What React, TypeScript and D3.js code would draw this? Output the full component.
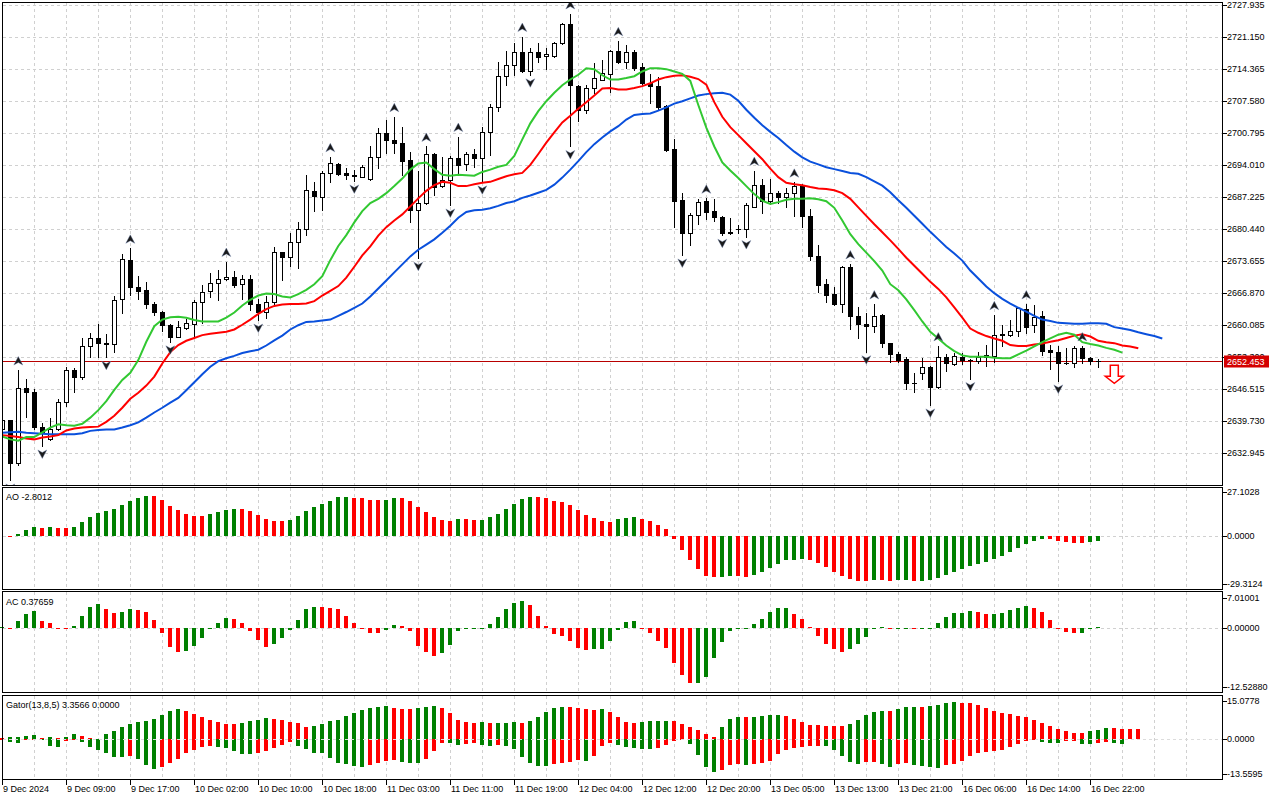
import React from "react";
import * as d3 from "d3";

// ---------- DATA (XAUUSD H1, 9 Dec 2024 - 16 Dec 2024) ----------
const opens = [2638.2,2639.9,2630.8,2646.7,2645.9,2638.6,2635.9,2638.2,2643.8,2650.6,
2649.2,2655.6,2657.3,2656.4,2656.1,2665.6,2673.9,2668.3,2667.6,2664.6,
2662.8,2660.2,2657.7,2659.6,2660.3,2665.0,2667.4,2669.0,2669.8,2670.3,
2668.8,2670.0,2664.6,2663.0,2665.0,2675.6,2674.5,2677.8,2680.4,2688.6,
2687.2,2692.3,2694.3,2692.3,2692.0,2691.6,2691.0,2695.7,2700.9,2699.4,
2698.7,2695.1,2684.5,2686.0,2696.4,2689.6,2690.9,2695.5,2694.3,2696.4,
2695.5,2701.0,2706.3,2713.0,2715.3,2718.0,2713.9,2718.0,2717.2,2717.2,
2719.9,2724.0,2710.8,2705.7,2710.3,2712.2,2713.4,2718.3,2716.0,2718.0,
2714.8,2711.5,2710.8,2706.6,2697.4,2686.7,2679.7,2683.5,2686.5,2684.3,
2683.0,2679.8,2680.4,2680.4,2685.2,2689.8,2686.5,2688.1,2687.2,2688.2,
2689.8,2683.3,2674.8,2668.8,2666.7,2664.7,2672.5,2662.1,2660.4,2659.9,
2662.3,2656.3,2654.1,2652.9,2647.9,2649.9,2651.3,2647.1,2653.3,2651.9,
2653.3,2652.7,2652.6,2653.4,2653.6,2658.2,2658.0,2658.9,2663.5,2660.2,
2662.1,2654.9,2654.5,2652.0,2652.0,2655.2,2653.1,2652.6];
const highs = [2640.4,2640.0,2650.6,2648.7,2646.5,2639.3,2640.4,2644.5,2651.3,2651.0,
2657.3,2658.4,2660.4,2658.2,2666.2,2675.1,2676.4,2670.5,2669.3,2665.1,
2663.2,2660.3,2660.9,2661.4,2665.5,2668.6,2671.2,2671.8,2673.6,2671.5,
2670.8,2670.8,2665.6,2666.3,2676.6,2675.7,2679.6,2681.9,2692.0,2690.5,
2692.7,2695.8,2694.4,2693.4,2693.0,2694.1,2698.0,2701.9,2703.6,2704.3,
2702.2,2696.9,2692.7,2698.0,2696.6,2695.8,2696.0,2700.1,2696.9,2697.4,
2702.1,2707.0,2716.0,2718.3,2720.0,2721.3,2718.8,2720.0,2718.8,2720.2,
2724.1,2726.1,2711.0,2711.0,2715.8,2716.3,2718.5,2720.4,2719.5,2718.5,
2715.6,2713.4,2712.7,2706.8,2699.5,2688.2,2684.0,2686.8,2687.0,2686.8,
2683.3,2682.8,2681.4,2686.0,2692.9,2691.0,2691.0,2688.6,2689.3,2690.4,
2690.0,2684.7,2677.1,2670.0,2668.3,2672.7,2673.1,2664.0,2662.6,2664.6,
2662.4,2656.4,2654.5,2653.4,2649.9,2653.1,2651.5,2655.7,2654.1,2654.3,
2654.3,2652.9,2654.5,2655.9,2662.3,2660.2,2661.2,2664.0,2664.6,2664.4,
2663.2,2655.9,2655.6,2655.2,2655.6,2655.7,2653.4,2652.9];
const lows = [2637.9,2627.3,2630.5,2640.7,2638.2,2634.5,2635.8,2637.9,2643.0,2646.0,
2648.8,2653.3,2653.3,2653.3,2654.5,2662.6,2666.5,2665.6,2663.7,2662.3,
2658.9,2656.6,2657.5,2659.4,2657.7,2660.5,2666.0,2665.5,2669.7,2668.1,
2665.6,2663.3,2661.2,2661.6,2664.4,2669.7,2672.7,2672.2,2679.2,2684.4,
2684.5,2690.5,2692.0,2691.0,2690.7,2691.5,2690.9,2693.4,2696.6,2696.6,
2692.0,2681.9,2674.3,2685.8,2687.7,2689.5,2685.6,2692.3,2693.0,2693.7,
2690.5,2696.2,2705.6,2711.0,2713.2,2713.7,2713.2,2716.0,2714.4,2717.0,
2719.7,2698.0,2703.5,2705.0,2709.4,2712.1,2709.6,2715.6,2714.6,2714.2,
2711.0,2707.2,2705.7,2697.1,2680.9,2675.0,2677.1,2681.6,2682.6,2682.3,
2679.2,2679.5,2679.6,2678.9,2685.1,2684.0,2685.8,2686.0,2685.1,2683.3,
2680.9,2673.9,2667.2,2665.1,2664.4,2662.8,2659.4,2657.3,2654.5,2658.7,
2655.4,2652.2,2652.4,2646.5,2646.0,2648.6,2643.2,2646.7,2650.3,2651.7,
2651.9,2648.8,2652.0,2651.5,2652.4,2655.6,2657.8,2657.8,2658.4,2658.7,
2653.8,2650.8,2648.3,2651.9,2651.2,2652.0,2651.9,2651.3];
const closes = [2639.9,2630.8,2646.7,2646.0,2638.6,2637.2,2638.2,2643.8,2650.6,2649.2,
2655.6,2657.3,2656.3,2656.1,2665.5,2674.1,2668.3,2667.4,2664.5,2663.0,
2660.2,2657.7,2659.8,2660.5,2665.0,2667.2,2669.0,2669.8,2670.3,2668.6,
2670.0,2664.5,2663.0,2665.0,2675.6,2674.5,2677.7,2680.4,2688.8,2687.4,
2692.3,2694.4,2692.2,2692.0,2691.7,2693.6,2695.7,2700.9,2699.4,2698.8,
2695.0,2684.5,2686.0,2696.4,2689.5,2690.9,2695.5,2694.1,2696.4,2695.5,
2701.0,2706.3,2713.0,2715.3,2718.0,2714.1,2718.0,2717.0,2717.6,2719.9,
2724.0,2711.0,2705.7,2710.3,2712.5,2713.5,2718.3,2716.0,2718.0,2714.6,
2711.5,2710.8,2706.4,2697.3,2686.5,2679.7,2683.5,2686.3,2684.2,2683.0,
2679.6,2679.6,2680.4,2685.5,2689.8,2686.5,2688.1,2687.2,2688.2,2689.6,
2683.3,2674.8,2668.6,2666.5,2664.6,2672.5,2662.1,2660.4,2659.9,2662.1,
2656.3,2654.1,2652.7,2647.8,2647.9,2651.3,2647.1,2653.3,2652.0,2653.6,
2652.7,2652.7,2653.3,2653.8,2658.0,2658.0,2658.9,2663.7,2659.8,2661.9,
2654.7,2654.4,2652.0,2652.0,2655.2,2653.1,2652.6,2652.453];

// Alligator lines, one value per bar slot (already shifted forward 8 / 5 / 3 bars)
const jaw = [2637.3,2637.4,2637.5,2637.3,2637.2,2637.1,2637.0,2637.0,2637.0,2637.0,
2637.2,2637.7,2637.9,2638.0,2638.0,2638.4,2638.9,2639.5,2640.5,2641.6,
2642.6,2643.7,2644.7,2646.3,2648.0,2649.7,2651.3,2652.5,2653.1,2653.6,
2654.2,2654.6,2654.9,2655.8,2656.9,2657.9,2659.2,2660.1,2660.8,2660.9,
2661.1,2661.3,2662.1,2662.9,2663.8,2664.7,2666.2,2667.9,2669.6,2671.3,
2673.0,2674.7,2676.1,2677.2,2678.3,2679.7,2681.2,2682.9,2684.1,2684.5,
2684.6,2684.9,2685.4,2686.0,2686.4,2687.1,2687.6,2688.2,2688.8,2689.9,
2691.4,2693.1,2694.9,2696.8,2698.5,2699.9,2701.2,2702.3,2703.7,2704.7,
2704.9,2705.0,2705.6,2706.3,2707.1,2707.6,2708.2,2708.8,2709.1,2709.3,
2709.4,2709.0,2707.7,2705.8,2704.1,2702.5,2701.1,2699.8,2698.3,2696.9,
2695.7,2694.8,2694.2,2693.6,2693.2,2692.8,2692.4,2692.2,2691.5,2690.6,
2689.7,2688.3,2686.6,2685.0,2683.3,2681.6,2679.9,2678.3,2676.7,2675.3,
2673.8,2671.7,2670.0,2668.3,2666.9,2665.7,2664.7,2663.8,2663.0,2662.1,
2661.3,2661.0,2660.6,2660.5,2660.4,2660.4,2660.5,2660.5,2660.4,2659.7,
2659.4,2659.1,2658.6,2658.2,2657.8,2657.3];
const teeth = [2636.8,2636.6,2636.4,2636.1,2635.9,2636.3,2636.5,2636.8,2637.8,2638.2,
2638.4,2638.5,2638.6,2639.6,2640.9,2642.6,2644.5,2645.8,2647.3,2649.2,
2652.0,2654.4,2655.9,2656.8,2657.4,2658.0,2658.3,2658.5,2658.7,2659.2,
2660.2,2661.3,2662.5,2663.5,2664.2,2664.5,2664.6,2664.6,2664.7,2665.2,
2666.4,2667.4,2668.4,2670.2,2672.5,2674.9,2676.8,2679.1,2680.9,2682.3,
2683.6,2685.3,2687.0,2688.6,2689.8,2690.5,2690.3,2689.6,2689.6,2690.0,
2690.3,2690.5,2691.1,2691.7,2692.1,2692.4,2694.1,2696.4,2698.8,2701.0,
2703.1,2704.5,2706.0,2707.4,2708.8,2710.3,2710.4,2710.1,2710.1,2710.4,
2710.8,2711.4,2712.2,2712.7,2713.0,2713.1,2712.8,2712.3,2711.1,2707.4,
2704.3,2702.1,2700.4,2698.7,2697.0,2695.3,2693.3,2691.5,2690.3,2690.0,
2689.8,2689.4,2689.1,2689.0,2688.7,2688.1,2686.9,2685.1,2683.3,2681.5,
2679.8,2678.1,2676.3,2674.4,2672.7,2671.0,2669.3,2667.8,2666.0,2663.9,
2661.7,2659.4,2658.5,2657.8,2657.3,2656.8,2655.9,2655.7,2655.7,2656.0,
2656.2,2656.6,2656.9,2657.4,2657.9,2658.2,2657.7,2656.8,2656.5,2656.3,
2655.8,2655.6,2655.2];
const lips = [2636.5,2635.9,2635.6,2636.4,2636.4,2637.4,2638.4,2639.1,2638.9,2638.8,
2639.2,2640.5,2642.1,2644.0,2646.4,2648.5,2650.0,2652.7,2656.6,2659.9,
2661.3,2661.8,2661.9,2661.7,2661.2,2660.9,2660.9,2660.9,2661.7,2662.8,
2664.3,2665.5,2666.4,2666.8,2666.7,2666.2,2666.0,2666.7,2667.6,2668.8,
2670.5,2673.9,2676.9,2679.2,2681.9,2684.3,2686.0,2686.9,2688.1,2689.6,
2691.2,2693.1,2694.4,2694.6,2693.2,2692.0,2691.8,2692.0,2691.9,2691.8,
2692.6,2693.1,2693.7,2694.1,2696.0,2699.5,2702.9,2705.5,2707.6,2709.4,
2711.0,2712.2,2713.2,2714.6,2714.4,2713.1,2712.2,2712.2,2712.5,2712.9,
2713.9,2714.6,2714.6,2714.4,2713.9,2713.4,2711.9,2706.8,2702.0,2698.0,
2694.6,2692.9,2691.3,2689.6,2687.9,2686.5,2685.8,2686.2,2686.7,2686.9,
2686.9,2687.0,2686.8,2686.4,2685.0,2682.3,2679.4,2677.3,2675.5,2673.7,
2671.7,2668.8,2667.5,2665.6,2663.3,2660.9,2658.7,2657.3,2655.8,2654.6,
2653.7,2653.4,2653.4,2653.4,2653.2,2653.1,2653.1,2653.9,2654.7,2655.6,
2656.5,2657.3,2658.1,2658.5,2658.1,2656.5,2656.1,2655.8,2655.3,2654.9,
2654.3];

const fractalUp = [2, 16, 28, 41, 49, 53, 57, 65, 71, 77, 88, 94, 99, 106, 109, 117, 124, 128, 135];
const fractalDown = [1, 5, 13, 21, 32, 44, 52, 56, 60, 66, 71, 85, 90, 93, 108, 116, 121, 132];
const sellSignalBar = 139;
const sellSignalPrice = 2651.6;
const bidPrice = 2652.453;

// Awesome Oscillator (bar 0 has no value)
const ao = [null,-0.5,1.2,3.7,5.6,5.0,5.6,5.0,4.9,5.6,
8.7,11.8,14.3,15.5,16.7,19.2,21.7,23.6,24.8,24.7,
22.3,18.6,16.1,13.6,12.4,12.3,13.6,14.9,16.1,16.7,
16.6,15.5,13.0,10.5,9.3,9.2,9.9,12.4,15.5,18.0,
19.9,21.7,24.2,24.3,23.6,23.5,22.3,22.1,22.3,23.6,
23.5,21.7,18.0,14.9,11.8,9.9,9.3,10.5,10.4,9.9,
10.0,11.8,13.6,16.7,19.9,23.0,24.2,24.1,23.6,21.7,
21.1,19.2,16.1,13.0,11.2,9.3,8.7,10.5,11.2,11.8,
10.5,9.3,6.8,4.3,-1.8,-8.3,-14.6,-20.2,-24.3,-24.9,
-24.8,-24.3,-24.4,-24.9,-23.7,-21.8,-19.4,-17.0,-14.6,-14.5,
-14.0,-14.6,-16.4,-18.8,-21.8,-24.3,-26.1,-27.3,-27.4,-26.7,
-26.8,-27.3,-26.7,-26.6,-27.3,-27.2,-26.7,-25.5,-23.7,-21.8,
-20.0,-18.2,-17.0,-15.8,-14.0,-12.1,-9.7,-7.3,-4.9,-3.0,
-1.8,-1.9,-3.0,-3.6,-4.2,-4.3,-3.6,-2.8012];
// Accelerator Oscillator
const ac = [0.2,0.1,1.7,3.3,4.0,1.7,1.2,0.1,-0.1,0.5,
2.8,4.9,5.6,4.4,3.5,3.7,4.4,4.2,3.7,1.9,
-1.1,-3.9,-5.0,-4.9,-3.7,-2.0,-0.1,1.2,2.4,2.1,
1.2,-0.5,-2.4,-3.9,-3.3,-2.0,-0.3,1.9,4.4,4.9,
4.8,4.7,4.4,2.8,1.2,-0.1,-0.9,-1.0,-0.3,0.8,
0.5,-0.6,-3.7,-5.0,-5.8,-5.2,-3.5,-0.5,0.05,0.1,
0.15,1.0,2.6,4.4,5.8,6.3,5.3,2.8,0.5,-1.3,
-1.6,-2.6,-4.1,-4.7,-4.5,-4.4,-2.8,-0.3,1.5,1.6,
-0.05,-1.1,-2.8,-4.1,-7.3,-10.0,-11.7,-11.6,-10.3,-6.4,
-3.0,-0.5,0.05,0.1,1.0,2.1,3.7,4.7,4.75,3.3,
2.1,0.3,-1.6,-3.3,-4.5,-5.0,-4.3,-3.3,-1.8,0.15,
0.2,-0.2,0.0,0.15,-0.2,0.0,0.1,1.2,2.6,3.5,
3.55,4.0,3.7,3.3,3.35,3.5,4.2,4.7,5.1,4.7,
3.7,1.9,-0.1,-0.7,-1.1,-0.9,0.0,0.37659];
// Gator oscillator: upper |jaw-teeth| and lower -|teeth-lips|
const gatorUp = [0.4,0.7,0.8,1.2,1.6,0.3,0.7,0.3,0.8,2.0,
1.2,0.3,0.1,2.0,3.1,4.7,5.9,6.7,7.1,7.9,
9.4,11.0,11.8,11.0,9.8,8.7,7.5,6.7,5.9,5.8,
6.3,7.1,7.5,8.3,7.9,7.5,6.7,6.3,4.7,5.1,
5.9,7.1,7.5,9.0,10.2,11.4,12.2,12.6,13.0,12.2,
11.8,11.7,12.2,12.6,13.0,12.2,10.2,7.5,6.7,6.3,
6.7,6.3,6.35,6.4,6.7,6.3,7.1,8.7,10.6,12.2,
12.6,12.5,12.4,11.7,11.6,11.7,10.6,8.7,6.7,6.3,
6.7,7.1,7.15,7.2,7.0,5.9,4.7,3.5,2.0,0.8,
4.7,7.9,8.7,8.6,8.7,9.1,9.4,9.5,9.1,7.9,
6.7,5.5,5.4,5.1,5.05,5.0,5.9,7.5,9.4,10.6,
11.0,10.9,11.8,12.6,12.65,12.6,13.0,13.4,14.2,14.6,
14.2,14.1,13.4,12.2,11.0,10.2,9.8,9.1,8.7,7.5,
6.3,5.1,3.9,3.1,2.4,2.3,3.0,3.3566,4.3,4.2,
3.9,3.85,3.8];
const gatorDown = [-0.4,-1.0,-1.4,-0.5,-0.2,-0.3,-2.6,-3.0,-0.9,-0.5,
-1.0,-3.0,-4.2,-5.3,-6.9,-7.0,-6.8,-7.7,-10.0,-11.6,
-10.8,-9.2,-7.7,-5.3,-4.2,-3.0,-2.9,-3.0,-3.4,-4.6,
-5.7,-5.8,-5.3,-4.6,-3.4,-2.2,-1.0,-2.6,-3.8,-5.3,
-5.4,-7.3,-9.2,-9.6,-10.4,-10.8,-10.0,-9.2,-8.5,-8.4,
-8.9,-9.2,-9.3,-7.7,-4.6,-1.4,-1.5,-2.5,-2.1,-1.7,
-2.5,-2.9,-2.5,-2.55,-3.8,-6.9,-9.2,-10.4,-10.5,-9.6,
-9.5,-8.9,-8.1,-8.5,-6.5,-2.9,-1.4,-2.2,-3.0,-3.4,
-3.8,-3.85,-3.4,-2.2,-0.7,-0.3,-1.8,-6.1,-10.8,-12.8,
-12.0,-10.0,-9.9,-10.05,-9.6,-9.2,-8.5,-5.7,-4.2,-3.4,
-3.0,-2.6,-2.55,-2.6,-4.2,-6.5,-8.9,-9.6,-8.85,-8.8,
-9.6,-10.8,-9.6,-9.2,-10.0,-10.4,-10.8,-11.2,-10.0,-9.6,
-8.5,-6.5,-5.3,-4.9,-4.6,-4.2,-3.0,-1.8,-0.65,-0.3,
-1.0,-1.4,-1.45,-0.65,-0.6,-1.8,-1.85,-1.4,-1.35,-1.45,
-1.8];

const priceTicks = [2727.935,2721.150,2714.365,2707.580,2700.795,2694.010,2687.225,2680.440,2673.655,2666.870,2660.085,2653.300,2646.515,2639.730,2632.945];
const aoTicks = [27.1028, 0, -29.3124];
const aoTickLabels = ["27.1028", "0.0000", "-29.3124"];
const acTicks = [7.01001, 0, -12.5288];
const acTickLabels = ["7.01001", "0.00000", "-12.52880"];
const gatorTicks = [15.0778, 0, -13.5595];
const gatorTickLabels = ["15.0778", "0.0000", "-13.5595"];
const timeLabels = ["9 Dec 2024","9 Dec 09:00","9 Dec 17:00","10 Dec 02:00","10 Dec 10:00","10 Dec 18:00","11 Dec 03:00","11 Dec 11:00","11 Dec 19:00","12 Dec 04:00","12 Dec 12:00","12 Dec 20:00","13 Dec 05:00","13 Dec 13:00","13 Dec 21:00","16 Dec 06:00","16 Dec 14:00","16 Dec 22:00"];
const barsPerLabel = 8;
const barsPerGrid = 4;

// ---------- LAYOUT / STYLE ----------
const W = 1280, H = 800;
const L = 2.5, R = 1222.5;
const MAIN = { top: 2.5, bottom: 485.5 };
const AOP = { top: 487.5, bottom: 589.5 };
const ACP = { top: 591.5, bottom: 692.5 };
const GP = { top: 695.5, bottom: 779.5 };
const GREEN = "#008000", RED = "#ff0000";
const FONT = "'Liberation Sans', Arial, sans-serif";
const GRID = "#d0d0d0";

const x = d3.scaleLinear().domain([0, 1]).range([2.3, 10.3]);
const yP = d3.scaleLinear().domain([2632.945, 2727.935]).range([453.3, 5.3]);
const yAO = d3.scaleLinear().domain([-29.3124, 0, 27.1028]).range([584.3, 536, 492.3]);
const yAC = d3.scaleLinear().domain([-12.5288, 0, 7.01001]).range([687.3, 628.3, 597.7]);
const yG = d3.scaleLinear().domain([-13.5595, 0, 15.0778]).range([773.7, 739, 700.7]);

const px = (k: number) => Math.floor(x(k)) + 0.5;

function colorOf(vals: (number | null)[], i: number, first: string, useAbs = false) {
  const prev = i > 0 ? vals[i - 1] : null;
  const cur = vals[i] as number;
  if (prev == null) return first;
  const a = useAbs ? Math.abs(cur) : cur;
  const b = useAbs ? Math.abs(prev) : prev;
  return a > b ? GREEN : RED;
}

function Histogram({ vals, y, first, useAbs = false }: any) {
  const zero = y(0);
  return (
    <g shapeRendering="crispEdges">
      {vals.map((v: number | null, i: number) => {
        if (v == null) return null;
        const yy = y(v);
        const top = Math.min(yy, zero);
        const h = Math.max(1, Math.abs(yy - zero));
        return <rect key={i} x={Math.round(x(i)) - 2} y={top} width={4} height={h} fill={colorOf(vals, i, first, useAbs)} />;
      })}
    </g>
  );
}

function VGrid({ top, bottom }: any) {
  const lines = [];
  for (let k = barsPerGrid; x(k) < R - 8; k += barsPerGrid) lines.push(k);
  return (
    <g>
      {lines.map((k) => (
        <line key={k} x1={px(k)} x2={px(k)} y1={top} y2={bottom} stroke={GRID} strokeDasharray="3,3" shapeRendering="crispEdges" />
      ))}
    </g>
  );
}

function AxisLabels({ ticks, labels, y }: any) {
  return (
    <g fontFamily={FONT} fontSize={9} fill="#000">
      {ticks.map((t: number, i: number) => (
        <g key={i}>
          <line x1={R} x2={R + 4} y1={Math.round(y(t)) + 0.5} y2={Math.round(y(t)) + 0.5} stroke="#000" shapeRendering="crispEdges" />
          <text x={1227} y={y(t)} dominantBaseline="central">{labels[i]}</text>
        </g>
      ))}
    </g>
  );
}

function upFractal(cx: number, cy: number) {
  return `M${cx},${cy - 4.5}L${cx + 4.5},${cy + 4}L${cx},${cy + 1.5}L${cx - 4.5},${cy + 4}Z`;
}
function downFractal(cx: number, cy: number) {
  return `M${cx},${cy + 4.5}L${cx + 4.5},${cy - 4}L${cx},${cy - 1.5}L${cx - 4.5},${cy - 4}Z`;
}

export default function App() {
  const line = (arr: number[]) =>
    d3.line<number>().x((_, i) => x(i)).y((d) => yP(d))(arr) as string;

  const bidY = Math.round(yP(bidPrice)) + 0.5;
  const sx = x(sellSignalBar);
  const sy = yP(sellSignalPrice);
  const arrowPath = `M${sx - 4},${sy}L${sx + 4},${sy}L${sx + 4},${sy + 11}L${sx + 9},${sy + 11}L${sx},${sy + 18}L${sx - 9},${sy + 11}L${sx - 4},${sy + 11}Z`;

  return (
    <div style={{ position: "fixed", left: 0, top: 0, width: W, height: H, background: "#fff" }}>
      <svg width={W} height={H} style={{ display: "block" }}>
        <defs>
          <clipPath id="mainClip"><rect x={L} y={MAIN.top} width={R - L} height={MAIN.bottom - MAIN.top} /></clipPath>
        </defs>
        <rect x={0} y={0} width={W} height={H} fill="#fff" />

        {/* ---------- MAIN PANEL ---------- */}
        <VGrid top={MAIN.top} bottom={MAIN.bottom} />
        {priceTicks.map((t, i) => (
          <line key={i} x1={L} x2={R} y1={Math.round(yP(t)) + 0.5} y2={Math.round(yP(t)) + 0.5} stroke={GRID} strokeDasharray="3,3" shapeRendering="crispEdges" />
        ))}
        <g clipPath="url(#mainClip)">
          <line x1={L} x2={R} y1={bidY} y2={bidY} stroke="#b80000" strokeWidth={1} shapeRendering="crispEdges" />
          {/* candles */}
          <g shapeRendering="crispEdges">
            {opens.map((o, k) => {
              const c = closes[k];
              const cx = px(k);
              const yH = Math.round(yP(highs[k]));
              const yL = Math.round(yP(lows[k]));
              const yT = Math.round(yP(Math.max(o, c)));
              const yB = Math.round(yP(Math.min(o, c)));
              const bull = c >= o;
              return (
                <g key={k}>
                  <line x1={cx} x2={cx} y1={yH} y2={yL + 1} stroke="#000" />
                  {yB - yT < 1 ? (
                    <line x1={cx - 2.5} x2={cx + 2.5} y1={yT + 0.5} y2={yT + 0.5} stroke="#000" />
                  ) : bull ? (
                    <rect x={cx - 2} y={yT + 0.5} width={4} height={yB - yT} fill="#fff" stroke="#000" />
                  ) : (
                    <rect x={cx - 2.5} y={yT} width={5} height={yB - yT + 1} fill="#000" />
                  )}
                </g>
              );
            })}
          </g>
          {/* alligator */}
          <path d={line(jaw)} fill="none" stroke="#0a50dc" strokeWidth={2} />
          <path d={line(teeth)} fill="none" stroke="#ff0000" strokeWidth={2} />
          <path d={line(lips)} fill="none" stroke="#32c832" strokeWidth={2} />
          {/* fractals */}
          {fractalUp.map((k) => (
            <path key={"u" + k} d={upFractal(x(k), yP(highs[k]) - 9)} fill="#1a1a1a" stroke="#6a7fa8" strokeWidth={0.4} />
          ))}
          {fractalDown.map((k) => (
            <path key={"d" + k} d={downFractal(x(k), yP(lows[k]) + 8)} fill="#1a1a1a" stroke="#6a7fa8" strokeWidth={0.4} />
          ))}
          {/* sell signal arrow */}
          <path d={arrowPath} fill="#fff" stroke="#ff0000" strokeWidth={1.5} />
        </g>
        <rect x={L} y={MAIN.top} width={R - L} height={MAIN.bottom - MAIN.top} fill="none" stroke="#000" shapeRendering="crispEdges" />
        <g fontFamily={FONT} fontSize={9}>
          {priceTicks.map((t, i) => (
            <g key={i}>
              <line x1={R} x2={R + 4} y1={Math.round(yP(t)) + 0.5} y2={Math.round(yP(t)) + 0.5} stroke="#000" shapeRendering="crispEdges" />
              <text x={1227} y={yP(t)} dominantBaseline="central">{t.toFixed(3)}</text>
            </g>
          ))}
          <rect x={1224} y={bidY - 6} width={45} height={12} fill="#d40000" />
          <text x={1227} y={bidY} dominantBaseline="central" fill="#fff">{bidPrice.toFixed(3)}</text>
        </g>

        {/* ---------- AO PANEL ---------- */}
        <VGrid top={AOP.top} bottom={AOP.bottom} />
        <line x1={L} x2={R} y1={Math.round(yAO(0)) + 0.5} y2={Math.round(yAO(0)) + 0.5} stroke={GRID} strokeDasharray="3,3" shapeRendering="crispEdges" />
        <Histogram vals={ao} y={yAO} first={RED} />
        <rect x={L} y={AOP.top} width={R - L} height={AOP.bottom - AOP.top} fill="none" stroke="#000" shapeRendering="crispEdges" />
        <AxisLabels ticks={aoTicks} labels={aoTickLabels} y={yAO} />
        <text x={6} y={500} fontFamily={FONT} fontSize={9}>AO -2.8012</text>

        {/* ---------- AC PANEL ---------- */}
        <VGrid top={ACP.top} bottom={ACP.bottom} />
        <line x1={L} x2={R} y1={Math.round(yAC(0)) + 0.5} y2={Math.round(yAC(0)) + 0.5} stroke={GRID} strokeDasharray="3,3" shapeRendering="crispEdges" />
        <Histogram vals={ac} y={yAC} first={GREEN} />
        <rect x={L} y={ACP.top} width={R - L} height={ACP.bottom - ACP.top} fill="none" stroke="#000" shapeRendering="crispEdges" />
        <AxisLabels ticks={acTicks} labels={acTickLabels} y={yAC} />
        <text x={6} y={605} fontFamily={FONT} fontSize={9}>AC 0.37659</text>

        {/* ---------- GATOR PANEL ---------- */}
        <VGrid top={GP.top} bottom={GP.bottom} />
        <Histogram vals={gatorUp} y={yG} first={RED} />
        <Histogram vals={gatorDown} y={yG} first={RED} useAbs />
        <line x1={L} x2={R} y1={Math.round(yG(0)) + 0.5} y2={Math.round(yG(0)) + 0.5} stroke="#dcdcdc" strokeDasharray="3,3" shapeRendering="crispEdges" />
        <rect x={L} y={GP.top} width={R - L} height={GP.bottom - GP.top} fill="none" stroke="#000" shapeRendering="crispEdges" />
        <AxisLabels ticks={gatorTicks} labels={gatorTickLabels} y={yG} />
        <text x={6} y={708} fontFamily={FONT} fontSize={9}>Gator(13,8,5) 3.3566 0.0000</text>

        {/* ---------- TIME AXIS ---------- */}
        <g fontFamily={FONT} fontSize={9}>
          {timeLabels.map((t, j) => {
            const xx = px(j * barsPerLabel);
            return (
              <g key={j}>
                <line x1={xx} x2={xx} y1={GP.bottom} y2={GP.bottom + 5} stroke="#000" shapeRendering="crispEdges" />
                <text x={xx + 0.5} y={792}>{t}</text>
              </g>
            );
          })}
        </g>
      </svg>
    </div>
  );
}
